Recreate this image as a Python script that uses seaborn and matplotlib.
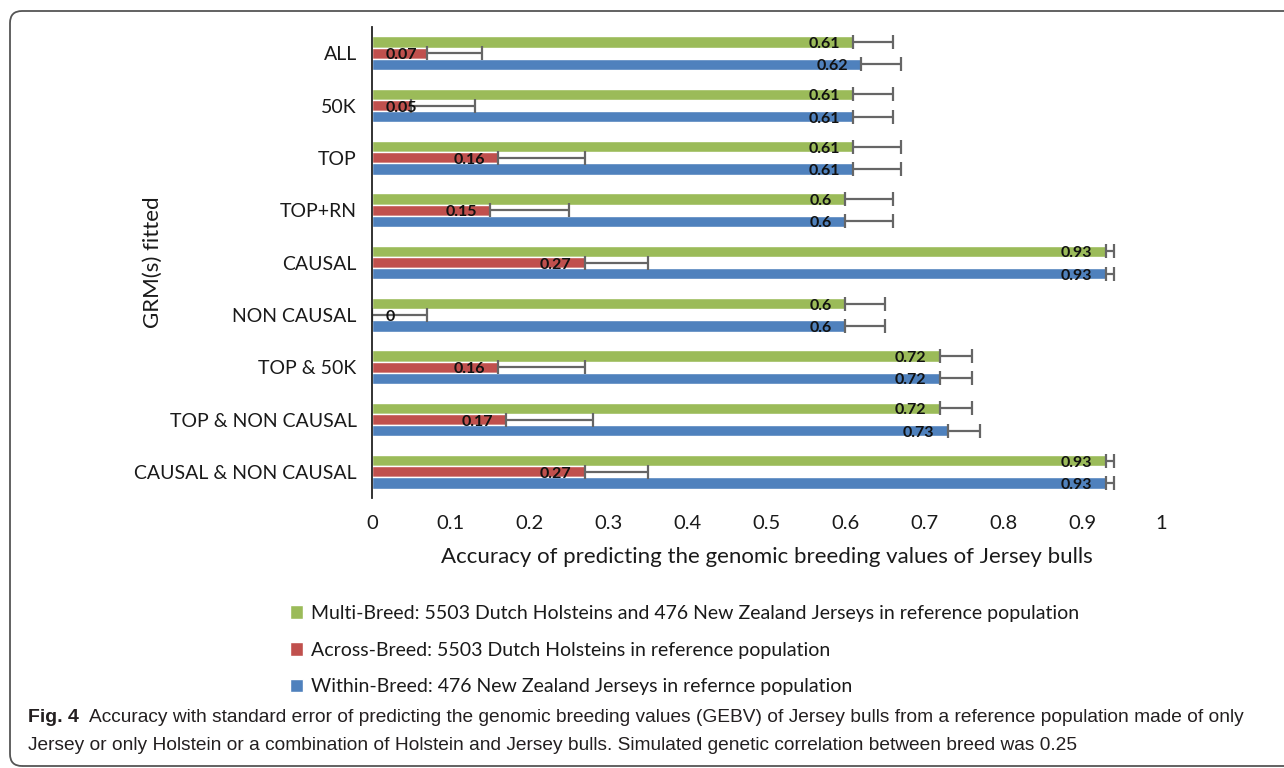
import pandas as pd
import matplotlib.pyplot as plt
import seaborn as sns
from matplotlib.patches import FancyBboxPatch
from matplotlib.transforms import IdentityTransform
from matplotlib import font_manager

# values
groups = ["ALL", "50K", "TOP", "TOP+RN", "CAUSAL", "NON CAUSAL",
          "TOP & 50K", "TOP & NON CAUSAL", "CAUSAL & NON CAUSAL"]
multi = [0.61, 0.61, 0.61, 0.6, 0.93, 0.6, 0.72, 0.72, 0.93]
multi_se = [0.05, 0.05, 0.06, 0.06, 0.01, 0.05, 0.04, 0.04, 0.01]
across = [0.07, 0.05, 0.16, 0.15, 0.27, 0, 0.16, 0.17, 0.27]
across_se = [0.07, 0.08, 0.11, 0.10, 0.08, 0.07, 0.11, 0.11, 0.08]
within = [0.62, 0.61, 0.61, 0.6, 0.93, 0.6, 0.72, 0.73, 0.93]
within_se = [0.05, 0.05, 0.06, 0.06, 0.01, 0.05, 0.04, 0.04, 0.01]

series = ["Multi-Breed: 5503 Dutch Holsteins and 476 New Zealand Jerseys in reference population",
          "Across-Breed: 5503 Dutch Holsteins in reference population",
          "Within-Breed: 476 New Zealand Jerseys in refernce population"]
colors = ["#9BBB59", "#C0504D", "#4F81BD"]
xticks = [0, 0.1, 0.2, 0.3, 0.4, 0.5, 0.6, 0.7, 0.8, 0.9, 1]

caption_bold = "Fig. 4"
caption_1 = ("Accuracy with standard error of predicting the genomic breeding values (GEBV) "
             "of Jersey bulls from a reference population made of only")
caption_2 = ("Jersey or only Holstein or a combination of Holstein and Jersey bulls. "
             "Simulated genetic correlation between breed was 0.25")

vals = [multi, across, within]
ses = [multi_se, across_se, within_se]
df = pd.DataFrame({
    "grm": groups * 3,
    "acc": multi + across + within,
    "series": [s for s in series for _ in groups],
})

sns.set_theme(style="white")
plt.rcParams["font.family"] = ["Lato", "DejaVu Sans"]

names = {f.name for f in font_manager.fontManager.ttflist}
cap_font = "Liberation Sans Narrow" if "Liberation Sans Narrow" in names else "Liberation Sans"

fig = plt.figure(figsize=(12.84, 7.68), dpi=100)
W, H = 1284, 768
ax = fig.add_axes([372 / W, 1 - 498 / H, (1161 - 372) / W, (498 - 27) / H])

sns.barplot(data=df, y="grm", x="acc", hue="series", hue_order=series,
            palette=colors, orient="h", width=0.64, saturation=1,
            errorbar=None, ax=ax)

# one-sided error bars and value labels on each bar
for cont, v, e in zip(ax.containers, vals, ses):
    ys = [p.get_y() + p.get_height() / 2 for p in cont.patches]
    ax.errorbar(v, ys, xerr=[[0] * len(v), e], fmt="none", ecolor="#666666",
                elinewidth=1.6, capsize=5, capthick=1.6)
    for x, y in zip(v, ys):
        if x < 0.1:
            ax.text(0.017, y + 0.04, f"{x:g}", ha="left", va="center",
                    fontsize=11.5, fontweight="bold", color="#111111")
        else:
            ax.text(x - 0.017, y + 0.04, f"{x:g}", ha="right", va="center",
                    fontsize=11.5, fontweight="bold", color="#111111")

ax.set_xlim(0, 1)
ax.set_ylim(8.5, -0.5)
ax.set_xticks(xticks)
ax.set_xticklabels([f"{t:g}" for t in xticks])
ax.tick_params(axis="x", length=0, pad=12, labelsize=14.5, colors="#1a1a1a")
ax.tick_params(axis="y", length=0, pad=11, labelsize=14, colors="#1a1a1a")
for side in ["top", "right", "bottom"]:
    ax.spines[side].set_visible(False)
ax.spines["left"].set_color("#222222")
ax.spines["left"].set_linewidth(1.3)
ax.set_xlabel("Accuracy of predicting the genomic breeding values of Jersey bulls",
              fontsize=16, labelpad=11, color="#1a1a1a")
ax.set_ylabel("GRM(s) fitted", fontsize=16, color="#1a1a1a")
ax.yaxis.set_label_coords((163 - 372) / 789, 0.5)

sns.move_legend(ax, loc="upper left", bbox_to_anchor=(282 / W, 1 - 597 / H),
                bbox_transform=fig.transFigure, frameon=False, title=None,
                fontsize=14, handlelength=0.7, handleheight=0.7,
                handletextpad=0.4, labelspacing=1.02, borderaxespad=0)
for t in ax.get_legend().get_texts():
    t.set_color("#1a1a1a")

# rounded frame of the figure panel
frame = FancyBboxPatch((10, 2), 1300, 755, boxstyle="round,pad=0,rounding_size=12",
                       transform=IdentityTransform(), fill=False,
                       edgecolor="#555555", linewidth=1.3)
fig.add_artist(frame)

# caption
renderer = fig.canvas.get_renderer()
t0 = fig.text(28 / W, 1 - 717 / H, caption_bold, fontsize=14, fontweight="bold",
              family=[cap_font, "DejaVu Sans"], va="center", color="#231f20")
bb = t0.get_window_extent(renderer)
t1 = fig.text((bb.x1 + 10) / W, 1 - 717 / H, caption_1, fontsize=13,
              family=[cap_font, "DejaVu Sans"], va="center", color="#231f20")
w1 = t1.get_window_extent(renderer).width
t1.set_fontsize(13 * (1246 - bb.x1 - 10) / w1)
t2 = fig.text(bb.x0 / W, 1 - 746 / H, caption_2, fontsize=t1.get_fontsize(),
              family=[cap_font, "DejaVu Sans"], va="center", color="#231f20")

fig.savefig("out.png", dpi=100)
